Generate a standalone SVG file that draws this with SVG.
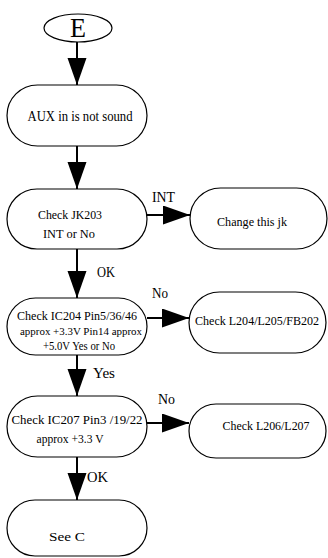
<svg xmlns="http://www.w3.org/2000/svg" width="328" height="558" viewBox="0 0 328 558">
<style>
.n{fill:#fff;stroke:#000;stroke-width:1.2}
.t{font-family:"Liberation Serif","Times New Roman",serif;fill:#000;text-anchor:middle}
.l{font-family:"Liberation Serif","Times New Roman",serif;fill:#000}
.c{stroke:#000;stroke-width:2;fill:none;marker-end:url(#ah)}
</style>
<defs>
<marker id="ah" markerUnits="userSpaceOnUse" markerWidth="28" markerHeight="20" refX="27" refY="9.5" orient="auto">
<path d="M0,0 L27,9.5 L0,19 Z" fill="#000"/>
</marker>
</defs>
<rect width="328" height="558" fill="#fff"/>
<g id="connectors">
<line class="c" x1="77" y1="42" x2="77" y2="85"/>
<line class="c" x1="77" y1="146" x2="77" y2="189"/>
<line class="c" x1="77" y1="249" x2="77" y2="298"/>
<line class="c" x1="77" y1="355" x2="77" y2="396"/>
<line class="c" x1="77" y1="457" x2="77" y2="500"/>
<line class="c" x1="147" y1="215" x2="190" y2="215"/>
<line class="c" x1="147" y1="318" x2="189" y2="318"/>
<line class="c" x1="147" y1="423" x2="189" y2="423"/>
<text class="l" x="152" y="202" font-size="15" textLength="23" lengthAdjust="spacingAndGlyphs">INT</text>
<text class="l" x="97" y="277" font-size="15" textLength="18" lengthAdjust="spacingAndGlyphs">OK</text>
<text class="l" x="152" y="298" font-size="15" textLength="16" lengthAdjust="spacingAndGlyphs">No</text>
<text class="l" x="93" y="378" font-size="15" textLength="22" lengthAdjust="spacingAndGlyphs">Yes</text>
<text class="l" x="158" y="404" font-size="15" textLength="17" lengthAdjust="spacingAndGlyphs">No</text>
<text class="l" x="87" y="482" font-size="15" textLength="21" lengthAdjust="spacingAndGlyphs">OK</text>
</g>
<g id="nE">
<ellipse class="n" cx="78" cy="28" rx="34" ry="14"/>
<text class="t" x="78" y="37" font-size="27" textLength="16" lengthAdjust="spacingAndGlyphs">E</text>
</g>
<g id="nAUX">
<rect class="n" x="7" y="85" width="140" height="61" rx="30.5"/>
<text class="t" x="80" y="121" font-size="14" textLength="105" lengthAdjust="spacingAndGlyphs">AUX in is not sound</text>
</g>
<g id="nJK">
<rect class="n" x="7" y="189" width="140" height="60" rx="30"/>
<text class="t" x="70" y="219" font-size="12.5" textLength="64" lengthAdjust="spacingAndGlyphs">Check JK203</text>
<text class="t" x="69" y="238" font-size="12.5" textLength="52" lengthAdjust="spacingAndGlyphs">INT or No</text>
</g>
<g id="nChange">
<rect class="n" x="190" y="188" width="137" height="61" rx="30.5"/>
<text class="t" x="252" y="226" font-size="12.5" textLength="70" lengthAdjust="spacingAndGlyphs">Change this jk</text>
</g>
<g id="nIC204">
<rect class="n" x="7" y="298" width="140" height="57" rx="28.5"/>
<text class="t" x="77" y="320" font-size="12.5" textLength="120" lengthAdjust="spacingAndGlyphs">Check IC204 Pin5/36/46</text>
<text class="t" x="81" y="335" font-size="10" textLength="122" lengthAdjust="spacingAndGlyphs">approx +3.3V  Pin14 approx</text>
<text class="t" x="79" y="350" font-size="12.5" textLength="72" lengthAdjust="spacingAndGlyphs">+5.0V Yes or No</text>
</g>
<g id="nL204">
<rect class="n" x="189" y="292" width="137" height="61" rx="30.5"/>
<text class="t" x="257" y="325" font-size="13" textLength="124" lengthAdjust="spacingAndGlyphs">Check L204/L205/FB202</text>
</g>
<g id="nIC207">
<rect class="n" x="7" y="396" width="140" height="61" rx="30.5"/>
<text class="t" x="77" y="424" font-size="12.5" textLength="131" lengthAdjust="spacingAndGlyphs">Check IC207  Pin3 /19/22</text>
<text class="t" x="70" y="443" font-size="12" textLength="67" lengthAdjust="spacingAndGlyphs">approx +3.3 V</text>
</g>
<g id="nL206">
<rect class="n" x="189" y="404" width="137" height="54" rx="27"/>
<text class="t" x="266" y="430" font-size="12.5" textLength="87" lengthAdjust="spacingAndGlyphs">Check L206/L207</text>
</g>
<g id="nSeeC">
<rect class="n" x="7" y="500" width="140" height="56" rx="28"/>
<text class="t" x="67" y="541" font-size="12.5" textLength="36" lengthAdjust="spacingAndGlyphs">See C</text>
</g>
</svg>
